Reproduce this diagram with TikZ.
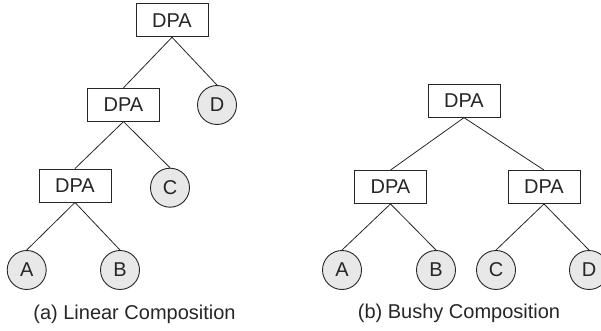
\documentclass[tikz,border=0pt]{standalone}
\usepackage{fontspec}
\setmainfont{Liberation Sans}
\begin{document}
\begin{tikzpicture}[x=1pt,y=-1pt,
  every node/.style={font=\fontsize{20}{24}\selectfont, text=black!85},
  dpa/.style={draw=black!85, line width=0.9pt, fill=white, minimum width=72pt, minimum height=33pt, inner sep=0pt},
  leaf/.style={draw=black!85, line width=0.9pt, circle, fill=black!9, minimum size=39pt, inner sep=0pt},
  edge/.style={draw=black!85, line width=0.8pt},
  caption/.style={inner sep=0pt}]
\useasboundingbox (0,0) rectangle (601,331);

% linear composition
\node[dpa] (l1) at (172,20.3) {DPA};
\node[dpa] (l2) at (123.5,104.7) {DPA};
\node[leaf] (ld) at (217,105) {D};
\node[dpa] (l3) at (75,185.5) {DPA};
\node[leaf] (lc) at (170,187.7) {C};
\node[leaf] (la) at (26.7,270) {A};
\node[leaf] (lb) at (120,270) {B};
\draw[edge] (l1.south) -- (l2.north);
\draw[edge] (l1.south) -- (ld.north);
\draw[edge] (l2.south) -- (l3.north);
\draw[edge] (l2.south) -- (lc.north);
\draw[edge] (l3.south) -- (la.north);
\draw[edge] (l3.south) -- (lb.north);
\node[caption] (capa) at (134.5,314) {(a) Linear Composition};

% bushy composition
\node[dpa] (b1) at (464,100.7) {DPA};
\node[dpa] (b2) at (390.5,187) {DPA};
\node[dpa] (b3) at (544,187) {DPA};
\node[leaf] (ba) at (342,270) {A};
\node[leaf] (bb) at (436,270) {B};
\node[leaf] (bc) at (496,270) {C};
\node[leaf] (bd) at (589,270) {D};
\draw[edge] (b1.south) -- (b2.north);
\draw[edge] (b1.south) -- (b3.north);
\draw[edge] (b2.south) -- (ba.north);
\draw[edge] (b2.south) -- (bb.north);
\draw[edge] (b3.south) -- (bc.north);
\draw[edge] (b3.south) -- (bd.north);
\node[caption] (capb) at (459,313) {(b) Bushy Composition};
\end{tikzpicture}
\end{document}
